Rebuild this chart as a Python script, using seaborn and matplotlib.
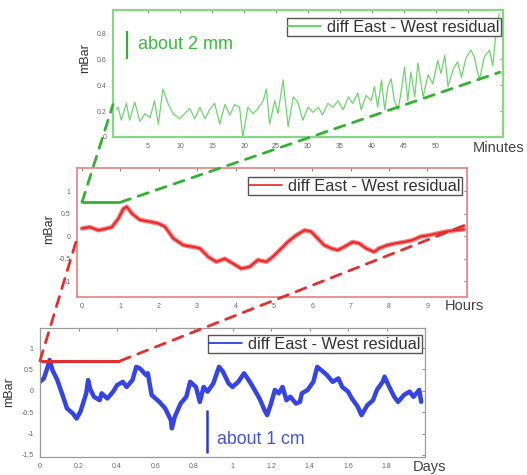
import matplotlib
matplotlib.use("Agg")
import pandas as pd
import seaborn as sns
import matplotlib.pyplot as plt
from matplotlib.patches import ConnectionPatch
from matplotlib.lines import Line2D

# ---- data -----------------------------------------------------------------
top_minutes = [0.0, 0.3, 0.8, 1.6, 2.1, 2.9, 3.7, 4.5, 5.3, 6.0,
               6.6, 7.3, 8.1, 8.9, 9.9, 10.7, 11.5, 12.3, 13.1, 13.9,
               14.6, 15.4, 16.2, 17.0, 17.8, 18.5, 19.3, 19.8, 20.6, 21.4,
               22.2, 23.0, 23.5, 24.0, 24.8, 25.3, 26.1, 26.9, 27.7, 28.4,
               29.2, 30.0, 30.8, 31.6, 32.3, 33.1, 33.9, 34.7, 35.5, 36.3,
               37.0, 37.8, 38.3, 39.1, 39.9, 40.4, 40.9, 41.5, 42.0, 42.5,
               43.0, 43.5, 44.1, 44.6, 45.1, 45.6, 46.1, 46.7, 47.2, 48.0,
               48.8, 49.5, 50.3, 50.8, 51.4, 51.9, 52.7, 53.4, 54.0, 54.7,
               55.5, 56.0, 56.8, 57.6, 58.4, 58.9, 59.4, 59.9]
top_mbar = [0.21, 0.23, 0.13, 0.26, 0.13, 0.27, 0.12, 0.18, 0.15, 0.28,
            0.10, 0.37, 0.26, 0.18, 0.14, 0.18, 0.22, 0.14, 0.23, 0.14,
            0.21, 0.26, 0.10, 0.25, 0.17, 0.25, 0.23, 0.00, 0.23, 0.18,
            0.22, 0.28, 0.37, 0.10, 0.28, 0.18, 0.44, 0.08, 0.31, 0.27,
            0.13, 0.23, 0.19, 0.23, 0.17, 0.26, 0.23, 0.28, 0.21, 0.31,
            0.26, 0.34, 0.21, 0.32, 0.28, 0.39, 0.23, 0.44, 0.21, 0.39,
            0.45, 0.28, 0.21, 0.36, 0.54, 0.28, 0.50, 0.31, 0.57, 0.31,
            0.48, 0.41, 0.59, 0.49, 0.63, 0.39, 0.52, 0.58, 0.46, 0.61,
            0.67, 0.62, 0.44, 0.62, 0.67, 0.55, 0.80, 0.95]

mid_hours = [0.0, 0.2, 0.43, 0.65, 0.78, 0.95, 1.08, 1.17, 1.3, 1.51,
             1.77, 1.99, 2.16, 2.38, 2.64, 2.9, 3.07, 3.29, 3.5, 3.72,
             3.94, 4.15, 4.37, 4.58, 4.8, 4.97, 5.15, 5.36, 5.58, 5.8,
             5.97, 6.14, 6.31, 6.49, 6.66, 6.83, 7.05, 7.22, 7.4, 7.61,
             7.74, 7.96, 8.17, 8.39, 8.61, 8.82, 9.04, 9.26, 9.47, 9.73, 9.95]
mid_mbar = [0.17, 0.2, 0.13, 0.17, 0.2, 0.39, 0.61, 0.65, 0.5, 0.36,
            0.32, 0.28, 0.21, -0.05, -0.2, -0.24, -0.27, -0.46, -0.57, -0.5,
            -0.61, -0.72, -0.68, -0.53, -0.57, -0.46, -0.31, -0.13, 0.02, 0.13,
            0.1, -0.05, -0.2, -0.27, -0.31, -0.24, -0.13, -0.16, -0.27, -0.35,
            -0.27, -0.2, -0.16, -0.13, -0.09, -0.01, 0.02, 0.06, 0.1, 0.13, 0.15]

bot_days = [0.0, 0.02, 0.04, 0.05, 0.065, 0.09, 0.12, 0.14, 0.17, 0.19,
            0.21, 0.24, 0.25, 0.26, 0.28, 0.31, 0.32, 0.35, 0.38, 0.4,
            0.43, 0.45, 0.48, 0.5, 0.52, 0.55, 0.56, 0.58, 0.62, 0.65,
            0.68, 0.685, 0.70, 0.73, 0.76, 0.78, 0.81, 0.83, 0.85, 0.87,
            0.9, 0.93, 0.95, 0.98, 1.0, 1.03, 1.06, 1.09, 1.12, 1.14,
            1.17, 1.18, 1.2, 1.22, 1.24, 1.26, 1.28, 1.3, 1.33, 1.35,
            1.36, 1.39, 1.42, 1.44, 1.47, 1.49, 1.52, 1.55, 1.57, 1.6,
            1.62, 1.65, 1.67, 1.7, 1.73, 1.75, 1.78, 1.79, 1.81, 1.84,
            1.86, 1.89, 1.92, 1.94, 1.97, 1.98]
bot_mbar = [0.21, 0.29, 0.56, 0.72, 0.48, 0.25, -0.14, -0.41, -0.53, -0.65,
            -0.49, -0.06, 0.25, 0.05, -0.14, -0.22, -0.06, -0.18, -0.02, 0.13,
            0.21, 0.09, 0.25, 0.56, 0.52, 0.37, 0.41, -0.1, -0.26, -0.41,
            -0.69, -0.88, -0.61, -0.3, -0.14, 0.21, 0.09, -0.26, 0.09, -0.02,
            0.17, 0.56, 0.45, 0.17, 0.09, 0.21, 0.41, 0.21, -0.02, -0.18,
            -0.49, -0.57, -0.3, 0.02, -0.06, 0.09, -0.22, -0.14, -0.3, -0.26,
            -0.06, 0.02, 0.21, 0.56, 0.45, 0.37, 0.21, 0.29, 0.09, -0.02,
            -0.18, -0.37, -0.57, -0.34, -0.22, 0.02, 0.21, 0.33, 0.13, -0.14,
            -0.26, -0.1, -0.02, -0.14, 0.02, -0.26]

legend_label = "diff East - West residual"

# zoom windows (start, end on the coarser axis, mBar level of the bracket)
hour_bracket = (0.0, 1.0, 0.75)       # first hour marked on the hours panel
day_bracket = (0.0, 10 / 24, 0.70)    # first ten hours marked on the days panel

# ---- figure ---------------------------------------------------------------
sns.set_theme(style="white")
plt.rcParams['font.family'] = ['Liberation Sans', 'DejaVu Sans']

fig = plt.figure(figsize=(5.27, 4.75), dpi=100)
ax_top = fig.add_axes([0.2144, 0.7116, 0.740, 0.2674])
ax_mid = fig.add_axes([0.1461, 0.3747, 0.740, 0.2716])
ax_bot = fig.add_axes([0.0759, 0.0379, 0.7306, 0.2716])

GREEN_LINE = "#6fd46f"
GREEN_DARK = "#35b035"
RED = "#ee2222"
BLUE = "#1f2fe0"


def style(ax, spine_color, spine_lw):
    for s in ax.spines.values():
        s.set_color(spine_color)
        s.set_linewidth(spine_lw)
        s.set_visible(True)
    ax.tick_params(direction="in", length=2.5, width=0.6, top=True, right=True,
                   labelsize=5, labelcolor="#666666", color="#777777", pad=4.5)
    ax.set_xlabel("")
    ax.set_ylabel("mBar", fontsize=9, color="#333333")


def legend(ax, color, lw, anchor):
    h = Line2D([], [], color=color, lw=lw)
    lg = ax.legend([h], [legend_label], loc="upper right", bbox_to_anchor=anchor,
                   fontsize=11.8, frameon=True, fancybox=False, borderpad=0.1,
                   handlelength=2.0, handletextpad=0.35, borderaxespad=0)
    lg.get_frame().set_edgecolor("#555555")
    lg.get_frame().set_linewidth(1.0)
    lg.get_frame().set_alpha(1)
    for t in lg.get_texts():
        t.set_color("#333333")


# top panel: minutes
sns.lineplot(x=top_minutes, y=top_mbar, ax=ax_top, color=GREEN_LINE, lw=0.9)
ax_top.set_xlim(-0.5, 60.5)
ax_top.set_ylim(0, 0.98)
ax_top.set_xticks([5, 10, 15, 20, 25, 30, 35, 40, 45, 50, 55])
ax_top.set_xticklabels(["5", "10", "15", "20", "25", "30", "35", "40", "45", "50", ""])
ax_top.set_yticks([0, 0.2, 0.4, 0.6, 0.8])
ax_top.set_yticklabels(["0", "0.2", "0.4", "0.6", "0.8"])
style(ax_top, "#86d886", 1.6)
ax_top.yaxis.set_label_coords(-0.056, 0.62)
legend(ax_top, GREEN_LINE, 1.5, (0.995, 0.937))
ax_top.text(0.923, -0.087, "Minutes", transform=ax_top.transAxes, fontsize=10.5,
            color="#444444", ha="left", va="center")
ax_top.vlines(1.7, 0.6, 0.82, color=GREEN_DARK, lw=1.6)
ax_top.text(3.4, 0.71, "about 2 mm", fontsize=13, color="#3cb93c", va="center", ha="left")

# middle panel: hours
sns.lineplot(x=mid_hours, y=mid_mbar, ax=ax_mid, color=RED, lw=3.2, alpha=0.6)
sns.lineplot(x=mid_hours, y=mid_mbar, ax=ax_mid, color=RED, lw=1.3)
ax_mid.set_xlim(-0.13, 10.03)
ax_mid.set_ylim(-1.35, 1.51)
ax_mid.set_xticks(range(0, 11))
ax_mid.set_xticklabels([str(i) for i in range(10)] + [""])
ax_mid.set_yticks([-1, -0.5, 0, 0.5, 1])
ax_mid.set_yticklabels(["-1", "-0.5", "0", "0.5", "1"])
style(ax_mid, "#e88a8a", 1.3)
ax_mid.yaxis.set_label_coords(-0.056, 0.53)
legend(ax_mid, RED, 1.2, (0.987, 0.93))
ax_mid.text(0.944, -0.07, "Hours", transform=ax_mid.transAxes, fontsize=10.5,
            color="#444444", ha="left", va="center")
ax_mid.hlines(hour_bracket[2], hour_bracket[0], hour_bracket[1], color=GREEN_DARK, lw=2)

# bottom panel: days
sns.lineplot(x=bot_days, y=bot_mbar, ax=ax_bot, color=BLUE, lw=3.2, alpha=0.9)
ax_bot.set_xlim(0, 2.0)
ax_bot.set_ylim(-1.55, 1.47)
ax_bot.set_xticks([0, 0.2, 0.4, 0.6, 0.8, 1.0, 1.2, 1.4, 1.6, 1.8, 2.0])
ax_bot.set_xticklabels(["0", "0.2", "0.4", "0.6", "0.8", "1", "1.2", "1.4", "1.6", "1.8", ""])
ax_bot.set_yticks([-1.5, -1, -0.5, 0, 0.5, 1])
ax_bot.set_yticklabels(["-1.5", "-1", "-0.5", "0", "0.5", "1"])
style(ax_bot, "#9a9a9a", 0.9)
ax_bot.yaxis.set_label_coords(-0.065, 0.5)
legend(ax_bot, BLUE, 1.2, (0.992, 0.946))
ax_bot.text(0.969, -0.078, "Days", transform=ax_bot.transAxes, fontsize=10.5,
            color="#444444", ha="left", va="center")
ax_bot.hlines(day_bracket[2], day_bracket[0], day_bracket[1], color="#e23030", lw=2.2)
ax_bot.vlines(0.87, -1.46, -0.45, color="#2a3ad0", lw=1.8)
ax_bot.text(0.92, -1.13, "about 1 cm", fontsize=12.8, color="#4454d4", va="center", ha="left")

# zoom connectors between the panels
dash = (0, (3.8, 3.0))
for a_pt, b_pt in [((hour_bracket[0], hour_bracket[2]), (-0.5, 0.25)),
                   ((hour_bracket[1], hour_bracket[2]), (60.0, 0.5))]:
    cp = ConnectionPatch(xyA=a_pt, coordsA=ax_mid.transData, xyB=b_pt,
                         coordsB=ax_top.transData, color=GREEN_DARK, lw=2.0,
                         linestyle=dash)
    fig.add_artist(cp)
for a_pt, b_pt in [((day_bracket[0], day_bracket[2]), (-0.13, -0.05)),
                   ((day_bracket[1], day_bracket[2]), (10.0, 0.25))]:
    cp = ConnectionPatch(xyA=a_pt, coordsA=ax_bot.transData, xyB=b_pt,
                         coordsB=ax_mid.transData, color="#e23030", lw=2.0,
                         linestyle=dash)
    fig.add_artist(cp)

fig.savefig("out.png", dpi=100)
